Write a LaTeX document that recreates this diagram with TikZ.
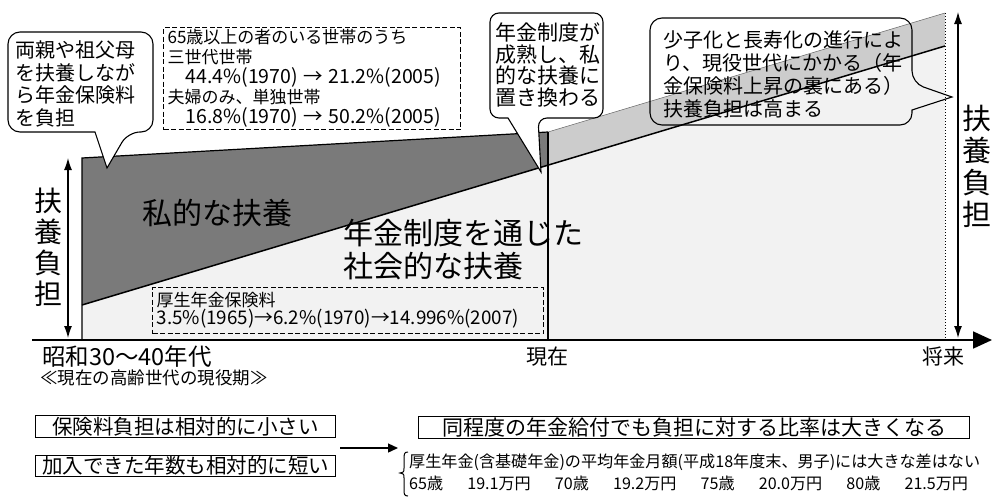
\documentclass[tikz,border=0pt]{standalone}
\usepackage{fontspec}
\setmainfont{Noto Sans CJK JP}
\usetikzlibrary{arrows.meta,calc}
\newcommand\fsz[2]{\fontsize{#1}{#2}\selectfont}
\begin{document}
\begin{tikzpicture}[x=1pt,y=-1pt,
  bubble/.style={line width=1.1pt, rounded corners=12pt},
  txt/.style={inner sep=0pt, align=left},
  dbox/.style={draw, line width=1.2pt, dash pattern=on 5pt off 2.5pt, anchor=north west, inner sep=0pt},
  sbox/.style={draw, line width=1.1pt, anchor=north west, inner sep=0pt},
  dblarr/.style={line width=1.2pt, {Latex[length=12pt,width=8pt]}-{Latex[length=12pt,width=8pt]}},
]
\useasboundingbox (0,0) rectangle (992,498);

% regions
\fill[black!5] (82,305) -- (945,46) -- (945,340) -- (82,340) -- cycle;
\fill[black!52] (82,158) -- (548,132) -- (548,165) -- (82,305) -- cycle;
\fill[black!20] (548,132) -- (945,13) -- (945,46) -- (548,165) -- cycle;
\draw[line width=1.2pt] (82,340) -- (82,158) -- (548,132);
\draw[line width=0.5pt,black!60] (548,132) -- (945,13);
\draw[line width=1.5pt] (82,305) -- (945,46);
\draw[line width=1.2pt] (548,132) -- (548,340);
\draw[line width=1pt, dotted] (945,13) -- (945,340);

% axes
\coordinate (ax0) at (32,340); \coordinate (ax1) at (992,340);
\draw[line width=1.8pt, -{Triangle[length=19pt,width=17pt]}] (ax0) -- (ax1);
\coordinate (l0) at (68,158); \coordinate (l1) at (68,338);
\draw[dblarr] (l0) -- (l1);
\coordinate (r0) at (958,12); \coordinate (r1) at (958,338);
\draw[dblarr] (r0) -- (r1);

\node[txt, align=center, font=\fsz{28}{31}] (lab1) at (48,247) {扶\\養\\負\\担};
\node[txt, align=center, font=\fsz{29}{32}] (lab2) at (977,166) {扶\\養\\負\\担};

% region texts
\node[font=\fsz{30}{30}] (priv) at (217,213) {私的な扶養};
\node[txt, font=\fsz{30}{33}, anchor=west] (soc) at (343,250) {年金制度を通じた\\社会的な扶養};

\node[dbox, minimum width=391, minimum height=46, text width=383, align=left, inner xsep=4pt, font=\fsz{17}{18}] (hoken) at (152,287)
  {厚生年金保険料\\{\fsz{18.8}{18}3.5\%(1965)→6.2\%(1970)→14.996\%(2007)}};
\node[dbox, minimum width=297, minimum height=102, text width=289, align=left, inner xsep=4pt, font=\fsz{17}{20}] (setai) at (163,27)
  {65歳以上の者のいる世帯のうち\\三世代世帯\\\hspace*{18pt}{\fsz{19.5}{20}44.4\%(1970) → 21.2\%(2005)}\\夫婦のみ、単独世帯\\\hspace*{18pt}{\fsz{19.5}{20}16.8\%(1970) → 50.2\%(2005)}};

% callouts
\filldraw[bubble, fill=white] (80,32) -- (153,32) -- (153,132) -- (128,132) [sharp corners] -- (107,168) -- (95,132) [rounded corners=12pt] -- (8,132) -- (8,32) -- cycle;
\node[txt, font=\fsz{20}{22.4}] (c1t) at (75,84) {両親や祖父母\\を扶養しなが\\ら年金保険料\\を負担};

\filldraw[bubble, rounded corners=9pt, fill=white] (546,13) -- (603,13) -- (603,118) -- (538,118) [sharp corners] -- (541,172) -- (508,118) [rounded corners=9pt] -- (490,118) -- (490,13) -- cycle;
\node[txt, font=\fsz{21}{21.7}] (c2t) at (547.5,65) {年金制度が\\成熟し、私\\的な扶養に\\置き換わる};

\draw[bubble] (781,18) -- (912,18) -- (912,83) [sharp corners] -- (952,97) -- (912,110) [rounded corners=12pt] -- (912,125) -- (650,125) -- (650,18) -- cycle;
\node[txt, font=\fsz{20}{23}] (c3t) at (783,74) {少子化と長寿化の進行によ\\り、現役世代にかかる（年\\金保険料上昇の裏にある）\\扶養負担は高まる};

% axis labels
\node[txt, anchor=west, font=\fsz{23.5}{23.5}] (sh) at (42,357) {昭和30～40年代};
\node[txt, anchor=west, font=\fsz{17.5}{17.5}] (sub) at (40,378) {≪現在の高齢世代の現役期≫};
\node[font=\fsz{21}{21}] (now) at (547,357) {現在};
\node[font=\fsz{21}{21}] (fut) at (943,356) {将来};

% bottom
\node[sbox, minimum width=300, minimum height=22, font=\fsz{20.5}{20.5}] (bA) at (35,415) {保険料負担は相対的に小さい};
\node[sbox, minimum width=300, minimum height=21, font=\fsz{20.5}{20.5}] (bB) at (35,455) {加入できた年数も相対的に短い};
\node[sbox, minimum width=551, minimum height=22, font=\fsz{21}{21}] (bC) at (418,416) {同程度の年金給付でも負担に対する比率は大きくなる};
\coordinate (a0) at (340,448); \coordinate (a1) at (398,448);
\draw[line width=1.3pt, -{Triangle[length=10pt,width=9pt]}] (a0) -- (a1);

\draw[line width=1pt] (408,452) .. controls (404,452) and (404,454) .. (404,460) -- (404,468) .. controls (404,472) .. (400,473) .. controls (404,474) .. (404,478) -- (404,489) .. controls (404,494) and (404,496) .. (408,496);
\node[txt, anchor=west, font=\fsz{16.1}{22}] (pen) at (409,472)
  {厚生年金(含基礎年金)の平均年金月額(平成18年度末、男子)には大きな差はない\\65歳\hspace{1.5em}19.1万円\hspace{1.5em}70歳\hspace{1.5em}19.2万円\hspace{1.5em}75歳\hspace{1.5em}20.0万円\hspace{1.5em}80歳\hspace{1.5em}21.5万円};
\end{tikzpicture}
\end{document}
